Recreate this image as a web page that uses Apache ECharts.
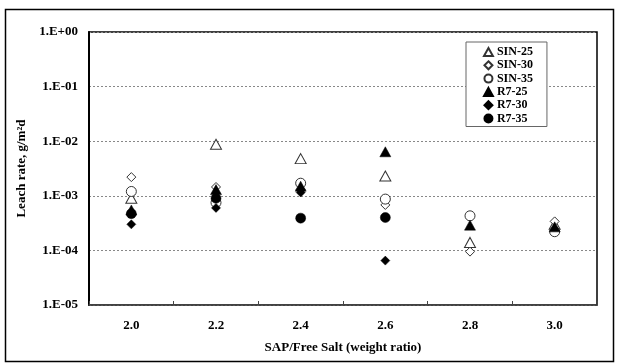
<!DOCTYPE html>
<html>
<head>
<meta charset="utf-8">
<script src="https://cdn.jsdelivr.net/npm/echarts@6/dist/echarts.min.js"></script>
<style>
html,body{margin:0;padding:0;background:#fff;}
#chart{width:619px;height:364px;}
</style>
</head>
<body>
<div id="chart"></div>
<script>
var categories = ['2.0', '2.2', '2.4', '2.6', '2.8', '3.0'];
var sin25 = [9.0e-4, 8.8e-3, 4.8e-3, 2.3e-3, 1.4e-4, 3.0e-4];
var sin30 = [2.2e-3, 1.45e-3, 1.3e-3, 6.8e-4, 9.5e-5, 3.4e-4];
var sin35 = [1.2e-3, 7.5e-4, 1.7e-3, 8.7e-4, 4.3e-4, 2.2e-4];
var r725 = [5.5e-4, 1.3e-3, 1.5e-3, 6.4e-3, 2.9e-4, 2.7e-4];
var r730 = [3.0e-4, 6.0e-4, 1.15e-3, 6.5e-5, null, null];
var r735 = [4.7e-4, 9.0e-4, 3.9e-4, 4.0e-4, null, null];
var seriesNames = ['SIN-25', 'SIN-30', 'SIN-35', 'R7-25', 'R7-30', 'R7-35'];

var FONT = "'Liberation Serif', 'Times New Roman', serif";
var TRI = 'path://M5,0 L10,9 L0,9 Z';
var DIA = 'path://M5,0 L10,5 L5,10 L0,5 Z';

function mk(name, data, symbol, size, filled) {
  return {
    name: name,
    type: 'scatter',
    data: data,
    symbol: symbol,
    symbolSize: size,
    itemStyle: filled ? { color: '#000', borderColor: '#000', borderWidth: 0.5, opacity: 1 }
                      : { color: '#fff', borderColor: '#333', borderWidth: 1, opacity: 1 },
    emphasis: { disabled: true }
  };
}

var chart = echarts.init(document.getElementById('chart'), null, { renderer: 'canvas' });
chart.setOption({
  animation: false,
  backgroundColor: '#fff',
  graphic: [{
    type: 'rect',
    shape: { x: 5.5, y: 9.5, width: 608, height: 352 },
    style: { fill: 'none', stroke: '#000', lineWidth: 1.5 },
    z: 0
  }],
  grid: { left: 89, right: 22, top: 32, bottom: 59, show: true, borderColor: '#000', borderWidth: 1.5, backgroundColor: 'transparent' },
  legend: {
    orient: 'vertical',
    left: 466, top: 42,
    padding: [4, 14, 2, 17],
    itemWidth: 9, itemHeight: 8, itemGap: 1.3,
    backgroundColor: '#fff',
    borderColor: '#666', borderWidth: 1,
    textStyle: { fontFamily: FONT, fontWeight: 'bold', fontSize: 12, lineHeight: 10, color: '#000', padding: [0, 0, 0, -1] },
    data: seriesNames
  },
  xAxis: {
    type: 'category',
    data: categories,
    name: 'SAP/Free Salt (weight ratio)',
    nameLocation: 'middle',
    nameGap: 36,
    nameTextStyle: { fontFamily: FONT, fontWeight: 'bold', fontSize: 13, color: '#000' },
    axisLine: { lineStyle: { color: '#444', width: 1.5 } },
    axisTick: { show: true, inside: true, length: 4, lineStyle: { color: '#444' } },
    axisLabel: { fontFamily: FONT, fontWeight: 'bold', fontSize: 13, color: '#000', margin: 14 },
    splitLine: { show: false }
  },
  yAxis: {
    type: 'log',
    logBase: 10,
    min: 1e-5,
    max: 1,
    name: 'Leach rate, g/m\u00B2d',
    nameLocation: 'middle',
    nameGap: 55,
    nameTextStyle: { fontFamily: FONT, fontWeight: 'bold', fontSize: 13, color: '#000' },
    axisLine: { show: true, lineStyle: { color: '#000', width: 2 } },
    axisTick: { show: false },
    axisLabel: {
      fontFamily: FONT, fontWeight: 'bold', fontSize: 13, color: '#000', margin: 11,
      formatter: function (v) {
        var e = Math.round(Math.log10(v));
        return '1.E' + (e < 0 ? '-' : '+') + String(Math.abs(e)).padStart(2, '0');
      }
    },
    splitLine: { show: true, lineStyle: { color: '#888', type: [2, 2], width: 1 } }
  },
  series: [
    mk('SIN-25', sin25, TRI, [11, 10], false),
    mk('SIN-30', sin30, DIA, [9, 9], false),
    mk('SIN-35', sin35, 'circle', 10, false),
    mk('R7-25', r725, TRI, [11, 10], true),
    mk('R7-30', r730, DIA, [9, 9], true),
    mk('R7-35', r735, 'circle', 10, true)
  ]
});
</script>
</body>
</html>
